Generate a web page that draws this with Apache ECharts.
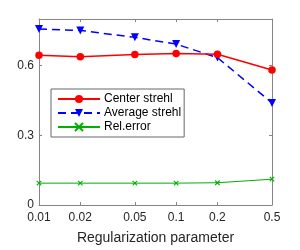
<!DOCTYPE html>
<html><head><meta charset="utf-8">
<script src="https://cdn.jsdelivr.net/npm/echarts@6/dist/echarts.min.js"></script>
<style>html,body{margin:0;padding:0;background:#fff}#c{width:300px;height:250px}</style>
</head><body><div id="c"></div>
<script>
var xValues = [0.01, 0.02, 0.05, 0.1, 0.2, 0.5];
var xTickLabels = ['0.01', '0.02', '0.05', '0.1', '0.2', '0.5'];
var yTicks = [0, 0.3, 0.6];
var yTickLabels = ['0', '0.3', '0.6'];
var centerStrehl = [0.644, 0.638, 0.647, 0.652, 0.648, 0.581];
var averageStrehl = [0.757, 0.751, 0.721, 0.692, 0.634, 0.439];
var relError = [0.094, 0.094, 0.094, 0.094, 0.0957, 0.111];
var seriesNames = ['Center strehl', 'Average strehl', 'Rel.error'];

function pairs(ys){ return xValues.map(function(x,i){ return [x, ys[i]]; }); }
function xLabel(v){ var i = xValues.findIndex(function(x){ return Math.abs(Math.log10(x) - Math.log10(v)) < 1e-6; }); return i >= 0 ? xTickLabels[i] : ''; }
function yLabel(v){ var i = yTicks.findIndex(function(y){ return Math.abs(y - v) < 1e-9; }); return i >= 0 ? yTickLabels[i] : ''; }

var FONT = 'Liberation Sans, Arial, Helvetica, sans-serif';
var AX = '#858585';
var chart = echarts.init(document.getElementById('c'), null, {renderer: 'canvas'});
var baseX = {
  type: 'log', logBase: 10, min: 0.01, max: 0.5,
  axisLine: {show: true, onZero: false, lineStyle: {color: AX, width: 1}},
  axisTick: {show: true, inside: true, length: 3, lineStyle: {color: AX}, customValues: xValues},
  splitLine: {show: false}, minorTick: {show: false}
};
var baseY = {
  type: 'value', min: 0, max: 0.8,
  axisLine: {show: true, onZero: false, lineStyle: {color: AX, width: 1}},
  axisTick: {show: true, inside: true, length: 3, lineStyle: {color: AX}, customValues: yTicks},
  splitLine: {show: false}
};
chart.setOption({
  animation: false,
  textStyle: {fontFamily: FONT},
  grid: {left: 39, top: 19, width: 233, height: 191, containLabel: false},
  legend: {
    left: 51, top: 89, orient: 'vertical',
    padding: [4, 3, 4, 6],
    itemWidth: 42, itemHeight: 10, itemGap: 2,
    borderColor: '#666', borderWidth: 1, backgroundColor: '#fff',
    textStyle: {fontSize: 12, color: '#000', fontFamily: FONT, lineHeight: 12, padding: [0,0,0,-1]},
    data: seriesNames
  },
  xAxis: [
    Object.assign({}, baseX, {
      position: 'bottom',
      axisLabel: {show: true, customValues: xValues, formatter: xLabel, fontSize: 12, color: '#262626', margin: 7, fontFamily: FONT},
      name: 'Regularization parameter', nameLocation: 'middle', nameGap: 26,
      nameTextStyle: {fontSize: 14, color: '#262626', fontFamily: FONT}
    }),
    Object.assign({}, baseX, {position: 'top', axisLabel: {show: false}})
  ],
  yAxis: [
    Object.assign({}, baseY, {
      position: 'left',
      axisLabel: {show: true, customValues: yTicks, formatter: yLabel, fontSize: 12, color: '#262626', margin: 5, fontFamily: FONT}
    }),
    Object.assign({}, baseY, {position: 'right', axisLabel: {show: false}})
  ],
  series: [
    {name: seriesNames[0], type: 'line', data: pairs(centerStrehl), symbol: 'circle', symbolSize: 7.5,
     itemStyle: {color: '#ff0000'}, lineStyle: {color: '#ff0000', width: 1.5}, z: 3},
    {name: seriesNames[1], type: 'line', data: pairs(averageStrehl), symbol: 'triangle', symbolRotate: 180, symbolSize: 8,
     itemStyle: {color: '#0000ff'}, lineStyle: {color: '#0000ff', width: 1.5, type: [8, 5]}, z: 2},
    {name: seriesNames[2], type: 'line', data: pairs(relError), symbol: 'path://M0,0L10,10M10,0L0,10', symbolSize: 4.5,
     itemStyle: {color: '#00b000', borderColor: '#00b000', borderWidth: 1.1}, lineStyle: {color: '#00b000', width: 1}, z: 1}
  ]
});
</script></body></html>
